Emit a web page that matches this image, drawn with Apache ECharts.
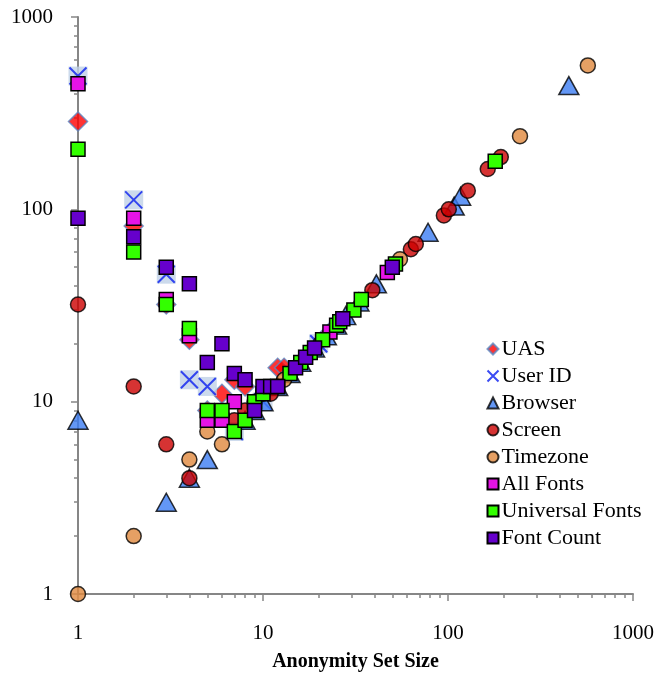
<!DOCTYPE html>
<html>
<head>
<meta charset="utf-8">
<script src="https://cdn.jsdelivr.net/npm/echarts@6/dist/echarts.min.js"></script>
<style>
html,body{margin:0;padding:0;background:#fff;}
#chart{width:665px;height:676px;}
</style>
</head>
<body>
<div id="chart"></div>
<script>
// ---- data: [anonymity set size, number of browsers] ----
const uas = [[1,286],[2,82],[3,32],[4,21],[5,9],[6,11],[7,13],[8,12],[12,15],[13,15],[14,14],[16,16],[18,18],[20,20],[22,22],[25,25]];
const userId = [[1,493],[2,112],[3,46],[4,13],[5,12],[7,7],[10,10],[20,20]];
const browser = [[1,8],[3,3],[4,4],[5,5],[8,8],[9,9],[10,10],[12,12],[14,14],[16,16],[19,19],[22,22],[25,25],[28,28],[33,33],[41,41],[78,76],[108,104],[117,117],[450,440]];
const screen = [[1,32],[2,12],[3,6],[4,4],[7,8],[8,9],[9,10],[10,11],[11,11],[39,38],[63,62],[67,66],[95,93],[101,100],[128,125],[164,162],[193,187]];
const timezone = [[1,1],[2,2],[4,5],[5,7],[6,6],[13,13],[55,55],[245,240],[570,560]];
const allFonts = [[1,450],[2,90],[3,34],[4,22],[5,8],[6,8],[7,10],[23,23],[47,47]];
const universalFonts = [[1,205],[2,60],[3,32],[4,24],[5,9],[6,9],[7,7],[8,8],[9,10],[10,11],[12,12],[14,14],[16,16],[18,18],[21,21],[25,25],[26,26],[31,30],[34,34],[52,52],[180,178]];
const fontCount = [[1,90],[2,72],[3,50],[4,41],[5,16],[6,20],[7,14],[8,13],[9,9],[10,12],[11,12],[12,12],[15,15],[17,17],[19,19],[27,27],[50,50]];

const majorTicks = [1,10,100,1000];
const minorTicks = [2,3,4,5,6,7,8,9,20,30,40,50,60,70,80,90,200,300,400,500,600,700,800,900];
const xTitle = 'Anonymity Set Size';
const yTitle = 'Number of Browsers';

const FONT = '"Liberation Serif", "Times New Roman", serif';
const AXIS = '#868686';
const XPATH = 'path://M0,0L10,10M10,0L0,10';

function axisPair(kind){
  const pos = kind==='x' ? 'bottom' : 'left';
  const main = {
    type:'log', logBase:10, min:1, max:1000, gridIndex:0, position:pos, offset:0,
    axisLine:{show:true, lineStyle:{color:AXIS, width:2}},
    axisTick:{show:true, inside:false, length:7, lineStyle:{color:AXIS, width:1.5}, customValues: majorTicks},
    axisLabel:{show:true, customValues: majorTicks, fontFamily:FONT, fontSize:21, color:'#000',
      margin: kind==='x'?29:25, formatter:(v)=>String(Math.round(v))},
    splitLine:{show:false},
    minorTick:{show:false}
  };
  const minor = {
    type:'log', logBase:10, min:1, max:1000, gridIndex:0, position:pos, offset:0,
    axisLine:{show:false},
    axisTick:{show:true, inside:false, length:4, lineStyle:{color:AXIS, width:1.5}, customValues: minorTicks},
    axisLabel:{show:false},
    splitLine:{show:false}
  };
  if(kind==='x'){
    main.name = xTitle; main.nameLocation='middle'; main.nameGap=58;
    main.nameTextStyle={fontFamily:FONT, fontSize:20, fontWeight:'bold', color:'#000'};
  } else {
    main.name = yTitle; main.nameLocation='middle'; main.nameGap=59;
    main.nameTextStyle={fontFamily:FONT, fontSize:21, fontWeight:'bold', color:'#000'};
  }
  return [main, minor];
}

const sq = (name, data, color) => ({name, type:'scatter', data, symbol:'rect', symbolSize:14,
  itemStyle:{color, borderColor:'#000', borderWidth:1.5, opacity:1}});

const option = {
  animation:false,
  backgroundColor:'#fff',
  grid:{left:78, right:32, top:17, bottom:82, containLabel:false, outerBoundsMode:'none'},
  xAxis: axisPair('x'),
  yAxis: axisPair('y'),
  legend:{
    orient:'vertical', left:480, top:333, itemGap:5, itemWidth:11, itemHeight:11,
    textStyle:{fontFamily:FONT, fontSize:22, color:'#000', padding:[0,0,0,-2]},
    data:[
      {name:'UAS'},
      {name:'User ID', icon:XPATH},
      {name:'Browser'},{name:'Screen'},{name:'Timezone'},
      {name:'All Fonts'},{name:'Universal Fonts'},{name:'Font Count'}
    ]
  },
  series:[
    {name:'UAS', type:'scatter', data:uas, symbol:'diamond', symbolSize:19,
      itemStyle:{color:'#ff0000', borderColor:'#5b86c0', borderWidth:1.5}},
    {name:'User ID bg', type:'scatter', data:userId, symbol:'rect', symbolSize:19, silent:true,
      itemStyle:{color:'#bfd1e7', borderWidth:0}},
    {name:'User ID', type:'scatter', data:userId, symbol:XPATH, symbolSize:17,
      itemStyle:{color:'none', borderColor:'#0a1ef0', borderWidth:2}},
    {name:'Browser', type:'scatter', data:browser, symbol:'triangle', symbolSize:[20,18],
      itemStyle:{color:'#3c7df2', borderColor:'#000', borderWidth:1.5}},
    {name:'Screen', type:'scatter', data:screen, symbol:'circle', symbolSize:15,
      itemStyle:{color:'#cc0000', borderColor:'#000', borderWidth:1.5}},
    {name:'Timezone', type:'scatter', data:timezone, symbol:'circle', symbolSize:15,
      itemStyle:{color:'#e0883d', borderColor:'#000', borderWidth:1.5}},
    sq('All Fonts', allFonts, '#e614e6'),
    sq('Universal Fonts', universalFonts, '#33ff00'),
    sq('Font Count', fontCount, '#6600cc')
  ]
};

const chart = echarts.init(document.getElementById('chart'), null, {renderer:'canvas'});
chart.setOption(option);
</script>
</body>
</html>
